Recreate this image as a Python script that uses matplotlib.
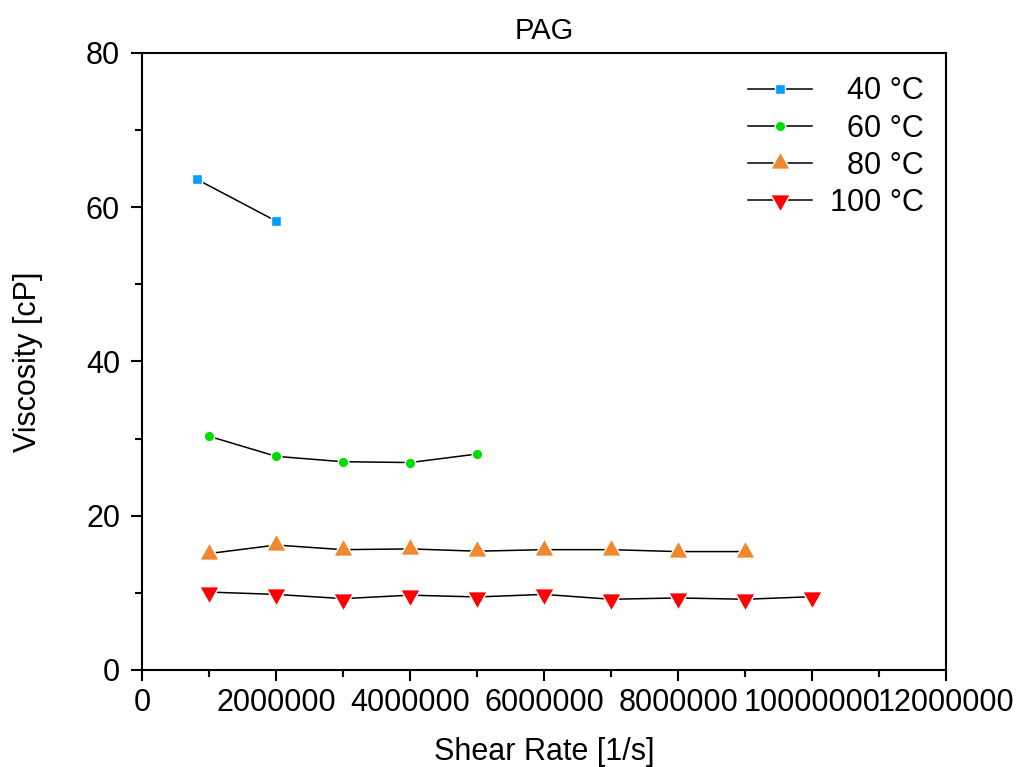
import matplotlib
matplotlib.use("Agg")
import matplotlib.pyplot as plt
from matplotlib.path import Path
from matplotlib.ticker import MultipleLocator, FuncFormatter

plt.rcParams["font.family"] = ["Liberation Sans", "DejaVu Sans"]

# viscosity of PAG vs shear rate at four temperatures
rate_40 = [820000, 2000000]
visc_40 = [63.6, 58.2]

rate_60 = [1000000, 2000000, 3000000, 4000000, 5000000]
visc_60 = [30.3, 27.7, 27.0, 26.9, 28.0]

rate_80 = [1000000, 2000000, 3000000, 4000000, 5000000, 6000000, 7000000, 8000000, 9000000]
visc_80 = [15.1, 16.2, 15.6, 15.7, 15.4, 15.6, 15.6, 15.35, 15.35]

rate_100 = [1000000, 2000000, 3000000, 4000000, 5000000, 6000000, 7000000, 8000000, 9000000, 10000000]
visc_100 = [10.1, 9.8, 9.25, 9.7, 9.47, 9.8, 9.17, 9.34, 9.17, 9.5]

labels = ["\u200740 °C", "\u200760 °C", "\u200780 °C", "100 °C"]

# triangles centred on their centroid, a bit wider than tall
tri_up = Path([(0, 10.67), (-9, -5.33), (9, -5.33), (0, 10.67)], closed=True)
tri_down = Path([(0, -10.67), (-9, 5.33), (9, 5.33), (0, -10.67)], closed=True)

series = [
    (rate_40, visc_40, "s", 7.0, "#009FFF"),
    (rate_60, visc_60, "o", 7.6, "#00DD00"),
    (rate_80, visc_80, tri_up, 16.8, "#F0882E"),
    (rate_100, visc_100, tri_down, 16.8, "#FF0000"),
]

fig = plt.figure(figsize=(10.16, 7.67), dpi=100)
ax = fig.add_axes([0.140, 0.1265, 0.791, 0.8044])

for (x, y, mk, ms, col), lab in zip(series, labels):
    ax.plot(x, y, color="black", lw=1.1, marker=mk, markersize=ms,
            markerfacecolor=col, markeredgecolor="white", markeredgewidth=1.0,
            label=lab)

ax.set_xlim(0, 12000000)
ax.set_ylim(0, 80)
ax.xaxis.set_major_locator(MultipleLocator(2000000))
ax.xaxis.set_minor_locator(MultipleLocator(1000000))
ax.yaxis.set_major_locator(MultipleLocator(20))
ax.yaxis.set_minor_locator(MultipleLocator(10))
ax.xaxis.set_major_formatter(FuncFormatter(lambda v, p: f"{v:.0f}"))

for s in ax.spines.values():
    s.set_linewidth(1.5)
ax.tick_params(which="both", direction="out", top=False, right=False, width=1.5)
ax.tick_params(which="major", length=8, labelsize=22)
ax.tick_params(which="minor", length=5)
ax.tick_params(axis="x", which="major", pad=5)
ax.tick_params(axis="y", which="major", pad=8)

ax.set_title("PAG", fontsize=21, pad=10)
ax.set_xlabel("Shear Rate [1/s]", fontsize=22)
ax.set_ylabel("Viscosity [cP]", fontsize=22)
ax.xaxis.set_label_coords(0.5, -0.108)
ax.yaxis.set_label_coords(-0.124, 0.5)

ax.legend(loc="upper right", bbox_to_anchor=(0.972, 0.962), frameon=False,
          fontsize=22, handlelength=2.1, handletextpad=0.58,
          labelspacing=0.235, borderpad=0, borderaxespad=0)

fig.savefig("out.png", dpi=100)
